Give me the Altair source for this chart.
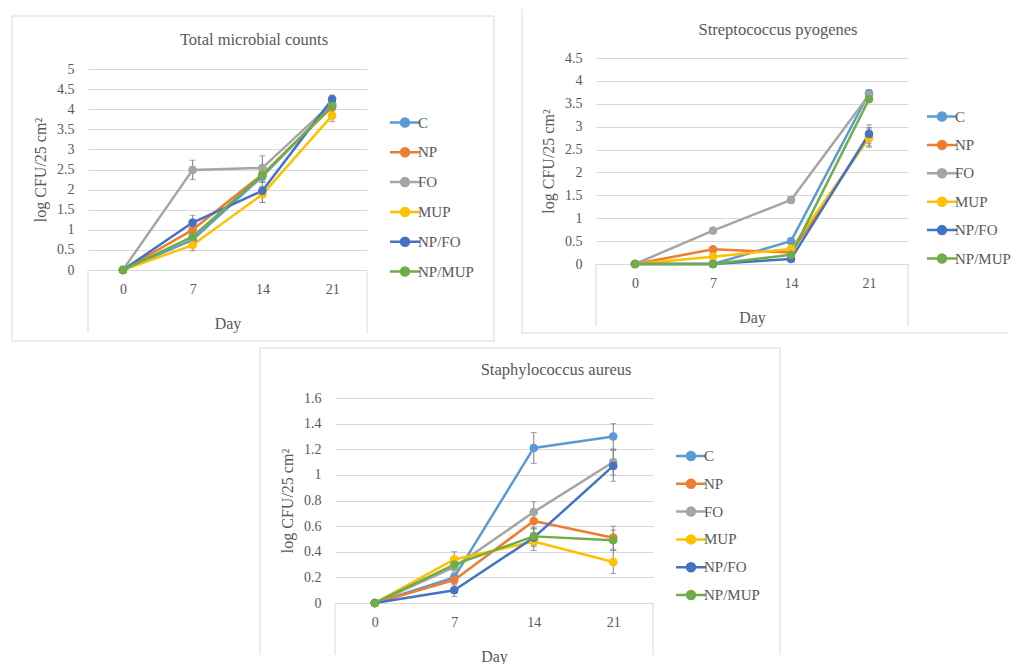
import altair as alt
import pandas as pd

# ---------------- data ----------------
SERIES = ["C", "NP", "FO", "MUP", "NP/FO", "NP/MUP"]
COLORS = ["#5B9BD5", "#ED7D31", "#A5A5A5", "#FFC000", "#4472C4", "#70AD47"]
DAYS = [0, 7, 14, 21]

# Total microbial counts (log CFU/25 cm2)
TMC_VALUES = {
    "C": [0, 0.75, 2.33, 4.10],
    "NP": [0, 1.00, 2.38, 4.05],
    "FO": [0, 2.49, 2.54, 4.15],
    "MUP": [0, 0.62, 1.88, 3.84],
    "NP/FO": [0, 1.18, 1.97, 4.25],
    "NP/MUP": [0, 0.83, 2.36, 4.08],
}
TMC_ERRORS = {
    "C": [0, 0.10, 0.15, 0.10],
    "NP": [0, 0.10, 0.20, 0.10],
    "FO": [0, 0.24, 0.30, 0.10],
    "MUP": [0, 0.14, 0.20, 0.15],
    "NP/FO": [0, 0.18, 0.29, 0.10],
    "NP/MUP": [0, 0.10, 0.15, 0.10],
}
TMC_TICKS = [0, 0.5, 1, 1.5, 2, 2.5, 3, 3.5, 4, 4.5, 5]

# Streptococcus pyogenes
SP_VALUES = {
    "C": [0, 0.00, 0.50, 3.73],
    "NP": [0, 0.32, 0.25, 2.78],
    "FO": [0, 0.73, 1.40, 3.69],
    "MUP": [0, 0.16, 0.33, 2.75],
    "NP/FO": [0, 0.00, 0.11, 2.84],
    "NP/MUP": [0, 0.00, 0.20, 3.60],
}
SP_ERRORS = {
    "C": [0, 0, 0.05, 0.08],
    "NP": [0, 0.04, 0.05, 0.20],
    "FO": [0, 0.06, 0.07, 0.08],
    "MUP": [0, 0.04, 0.05, 0.20],
    "NP/FO": [0, 0, 0.04, 0.20],
    "NP/MUP": [0, 0, 0.04, 0.05],
}
SP_TICKS = [0, 0.5, 1, 1.5, 2, 2.5, 3, 3.5, 4, 4.5]

# Staphylococcus aureus
SA_VALUES = {
    "C": [0, 0.20, 1.21, 1.30],
    "NP": [0, 0.18, 0.64, 0.51],
    "FO": [0, 0.28, 0.71, 1.10],
    "MUP": [0, 0.34, 0.48, 0.32],
    "NP/FO": [0, 0.10, 0.51, 1.07],
    "NP/MUP": [0, 0.30, 0.52, 0.49],
}
SA_ERRORS = {
    "C": [0, 0.03, 0.12, 0.10],
    "NP": [0, 0.04, 0.06, 0.09],
    "FO": [0, 0.04, 0.08, 0.10],
    "MUP": [0, 0.06, 0.07, 0.09],
    "NP/FO": [0, 0.05, 0.07, 0.12],
    "NP/MUP": [0, 0.04, 0.07, 0.08],
}
SA_TICKS = [0, 0.2, 0.4, 0.6, 0.8, 1, 1.2, 1.4, 1.6]

# ---------------- style ----------------
FONT = "Liberation Serif"
TXT = "#595959"
GRID = "#d9d9d9"
ERRC = "#808080"
YTITLE = "log CFU/25 cm\u00b2"
# legend symbol: short line with a dot in the middle
LEG_PATH = "M-3,0H3M0.8,0A0.8,0.8,0,1,1,-0.8,0A0.8,0.8,0,1,1,0.8,0Z"

ONE = pd.DataFrame({"k": [0]})


def long_df(vals, errs):
    rows = []
    for s in SERIES:
        for d, v, e in zip(DAYS, vals[s], errs[s]):
            rows.append({"series": s, "day": d, "value": v,
                         "lo": v - e, "hi": v + e, "err": e})
    return pd.DataFrame(rows)


def frame_rect(x1, y1, x2, y2):
    return alt.Chart(ONE).mark_rect(opacity=0).encode(
        x=alt.value(x1), x2=alt.value(x2), y=alt.value(y1), y2=alt.value(y2))


def panel(title, vals, errs, yticks, W, H, yrange, frame, rules, box_bottom,
          title_xy, legend_xy, row_pad):
    df = long_df(vals, errs)
    dfe = df[df["err"] > 0]

    xaxis = alt.Axis(title="Day", labelAngle=0, domain=True, domainColor=GRID,
                     domainWidth=1, ticks=False, grid=False, labelPadding=12,
                     titlePadding=19)
    yaxis = alt.Axis(values=yticks, format="~g", title=YTITLE, domain=False,
                     ticks=False, grid=True, gridColor=GRID, gridWidth=1,
                     labelPadding=14, titlePadding=8)
    xs = alt.Scale(type="point", padding=0.5)
    ys = alt.Scale(domain=[yticks[0], yticks[-1]], nice=False, zero=True,
                   range=yrange)
    cs = alt.Scale(domain=SERIES, range=COLORS)

    def X():
        return alt.X("day:O", scale=xs, axis=xaxis)

    def Y(f):
        return alt.Y(f + ":Q", scale=ys, axis=yaxis)

    legend = alt.Legend(title=None, orient="none", legendX=legend_xy[0],
                        legendY=legend_xy[1], symbolType=LEG_PATH,
                        symbolSize=100, symbolStrokeWidth=2.5,
                        labelFont=FONT, labelFontSize=15, labelColor=TXT,
                        labelOffset=5.5, rowPadding=row_pad, padding=0,
                        symbolOpacity=1)

    layers = [frame_rect(*frame)]
    for (x1, y1, x2, y2) in rules:
        layers.append(alt.Chart(ONE).mark_rule(color=GRID, strokeWidth=1).encode(
            x=alt.value(x1), x2=alt.value(x2), y=alt.value(y1), y2=alt.value(y2)))
    for bx in (0, W):
        layers.append(alt.Chart(ONE).mark_rule(color=GRID, strokeWidth=1).encode(
            x=alt.value(bx), y=alt.value(H), y2=alt.value(box_bottom)))

    # one line per series (constant colour), drawn in series order
    for s, c in zip(SERIES, COLORS):
        layers.append(alt.Chart(df).transform_filter(alt.datum.series == s)
                      .mark_line(color=c, strokeWidth=2.5, strokeJoin="round",
                                 strokeCap="round")
                      .encode(x=X(), y=Y("value")))

    err_rule = alt.Chart(dfe).mark_rule(color=ERRC, strokeWidth=1).encode(
        x=X(), y=Y("lo"), y2="hi:Q")
    cap_lo = alt.Chart(dfe).mark_tick(color=ERRC, thickness=1, size=6,
                                      orient="horizontal").encode(x=X(), y=Y("lo"))
    cap_hi = alt.Chart(dfe).mark_tick(color=ERRC, thickness=1, size=6,
                                      orient="horizontal").encode(x=X(), y=Y("hi"))
    points = alt.Chart(df).mark_point(filled=True, size=60, opacity=1,
                                      strokeWidth=1).encode(
        x=X(), y=Y("value"),
        color=alt.Color("series:N", scale=cs, legend=legend),
        stroke=alt.Stroke("series:N", scale=cs, legend=legend))
    ttl = alt.Chart(ONE).mark_text(text=title, font=FONT, fontSize=16.5,
                                   color=TXT, align="center",
                                   baseline="middle").encode(
        x=alt.value(title_xy[0]), y=alt.value(title_xy[1]))

    layers += [err_rule, cap_lo, cap_hi, points, ttl]
    return alt.layer(*layers).properties(width=W, height=H)


# panel 1: plot origin at page (88, 69)
p1 = panel("Total microbial counts", TMC_VALUES, TMC_ERRORS, TMC_TICKS,
           279, 201, yrange=[201, 0], frame=(-80, -61, 422, 276),
           rules=[(-76, -53, 406, -53), (-76, 272, 406, 272),
                  (-76, -53, -76, 272), (406, -53, 406, 272)],
           box_bottom=264, title_xy=(166, -29), legend_xy=(309.5, 46),
           row_pad=10.8)

# panel 2: group origin at page (596, 69); data area reaches up to page y 58
p2 = panel("Streptococcus pyogenes", SP_VALUES, SP_ERRORS, SP_TICKS,
           312, 195, yrange=[195, -11], frame=(-86, -61, 412, 276),
           rules=[(-74, -60, -74, 264), (-74, 264, 412, 264)],
           box_bottom=257, title_xy=(182, -39), legend_xy=(338.5, 40),
           row_pad=9.4)

# panel 3: plot origin at page (335, 398)
p3 = panel("Staphylococcus aureus", SA_VALUES, SA_ERRORS, SA_TICKS,
           318, 205, yrange=[205, 0], frame=(-76, -53, 445, 257),
           rules=[(-75, -50, -75, 257), (-75, -50, 445, -50),
                  (445, -50, 445, 257)],
           box_bottom=257, title_xy=(221, -28), legend_xy=(348.5, 50.5),
           row_pad=8.8)

# invisible spacer that shifts the bottom panel to the right
spacer = frame_rect(-80, 0, 171, 1).properties(width=1, height=1)


def indep(c):
    return c.resolve_scale(color="independent", stroke="independent").resolve_legend(
        color="independent", stroke="independent")


top = indep(alt.hconcat(p1, p2, spacing=0))
bottom = indep(alt.hconcat(spacer, p3, spacing=0))
chart = indep(alt.vconcat(top, bottom, spacing=0)).properties(
    padding=0, background="white").configure_view(strokeWidth=0).configure_axis(
    labelFont=FONT, titleFont=FONT, labelColor=TXT, titleColor=TXT,
    labelFontSize=14, titleFontSize=16, titleFontWeight="normal")

chart.save("out.html", embed_options={"renderer": "svg", "actions": False})
